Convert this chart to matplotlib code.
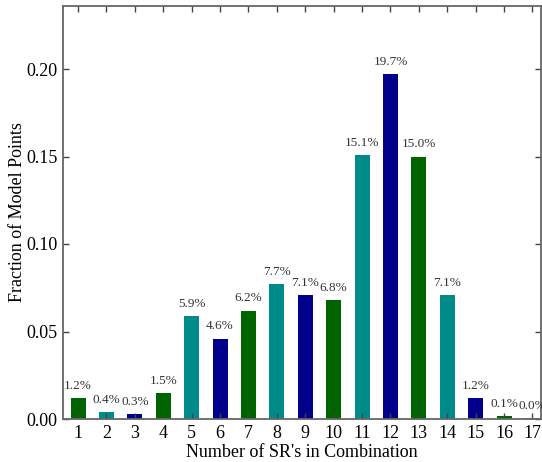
import matplotlib
matplotlib.use("Agg")
import matplotlib.pyplot as plt

categories = list(range(1, 18))
values = [0.012, 0.004, 0.003, 0.015, 0.059, 0.046, 0.062, 0.077, 0.071, 0.068,
          0.151, 0.197, 0.150, 0.071, 0.012, 0.0015, 0.0003]
labels = ["1.2%", "0.4%", "0.3%", "1.5%", "5.9%", "4.6%", "6.2%", "7.7%", "7.1%", "6.8%",
          "15.1%", "19.7%", "15.0%", "7.1%", "1.2%", "0.1%", "0.0%"]
palette = ["#006400", "#008B8B", "#00008B"]

plt.rcParams['font.family'] = ['Liberation Serif', 'DejaVu Serif']

fig = plt.figure(figsize=(5.42, 4.62), dpi=100)
ax = fig.add_axes([63/542, 1 - 419/462, (541-63)/542, (419-6)/462])

colors = [palette[i % 3] for i in range(len(categories))]
ax.bar(categories, values, width=0.53, color=colors)
for x, v, t in zip(categories, values, labels):
    ax.text(x, v + 0.0035, t, ha='center', va='bottom', fontsize=9.5, color='#333333')

ax.set_xlim(0.47, 17.3)
ax.set_ylim(0, 0.236)
ax.set_xticks(categories)
ax.set_yticks([0.0, 0.05, 0.10, 0.15, 0.20])
ax.set_yticklabels(["0.00", "0.05", "0.10", "0.15", "0.20"])
ax.tick_params(direction='in', top=True, right=True, length=4, width=1,
               labelsize=13, color='#444444', pad=4)
for s in ax.spines.values():
    s.set_color('#666666')
    s.set_linewidth(1.3)
ax.set_xlabel("Number of SR's in Combination", fontsize=13, labelpad=2)
ax.set_ylabel("Fraction of Model Points", fontsize=13)
ax.yaxis.set_label_coords(-0.077, 0.5)

fig.savefig("out.png", dpi=100)
